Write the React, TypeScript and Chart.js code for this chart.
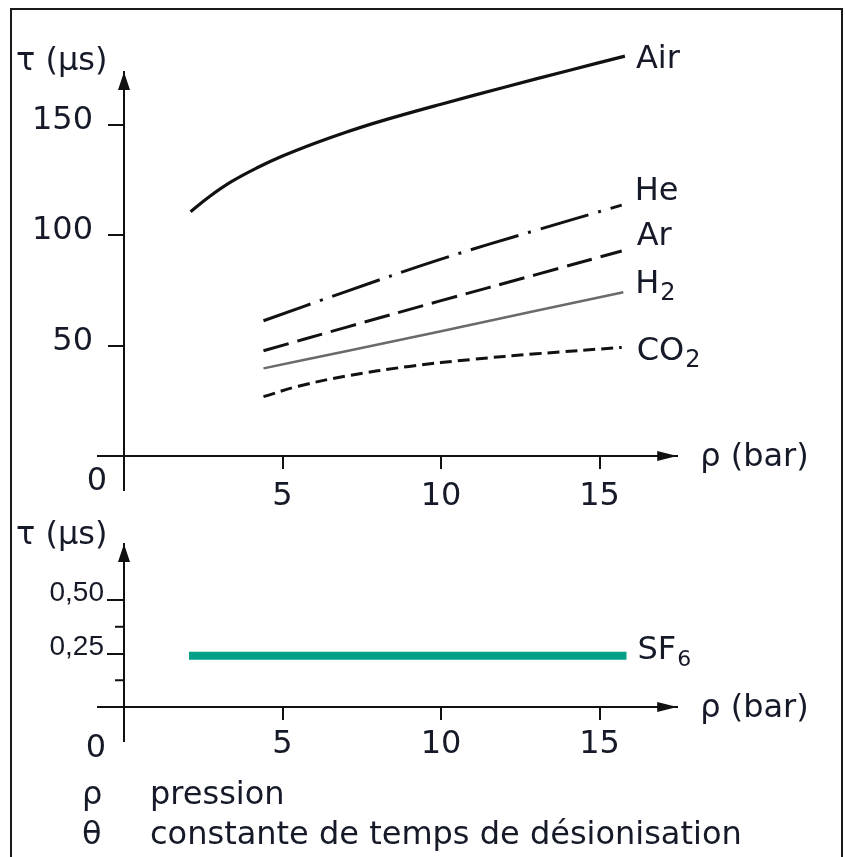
import React, { useEffect, useRef } from "react";
import { Chart, registerables } from "chart.js";

Chart.register(...registerables);

// ---------------- data ----------------
const pressureTicks = [5, 10, 15];
const pressureTickLabels = ["5", "10", "15"];

const tauTicksTop = [50, 100, 150];
const tauTickLabelsTop = ["50", "100", "150"];

const tauTicksBottom = [0.25, 0.5];
const tauTickLabelsBottom = ["0,25", "0,50"];
const tauMinorTicksBottom = [0.125, 0.375];

const airPressure = [2.1, 2.7, 3.4, 4.2, 5, 6, 7, 8, 10, 12, 14, 15.8];
const airTau = [110.7, 117.6, 124.4, 130.6, 135.9, 141.6, 146.7, 151.3, 159.4, 167.1, 174.6, 181.2];

const hePressure = [4.4, 7, 10, 13, 15.7];
const heTau = [61.3, 74.5, 89.2, 102.3, 113.7];

const arPressure = [4.4, 7, 10, 13, 15.7];
const arTau = [47.7, 58.3, 70.4, 82.2, 92.9];

const h2Pressure = [4.4, 7, 10, 13, 15.75];
const h2Tau = [39.7, 47.5, 56.5, 65.8, 74.2];

const co2Pressure = [4.4, 5.5, 7, 9, 11, 13, 15.7];
const co2Tau = [26.9, 31.6, 36.2, 40.6, 43.8, 46.3, 49.2];

const sf6Pressure = [2.05, 15.85];
const sf6Tau = [0.24, 0.24];

const seriesNamesTop = ["Air", "He", "Ar", "H", "CO"];
const seriesSubsTop = ["", "", "", "2", "2"];
const seriesNamesBottom = ["SF"];
const seriesSubsBottom = ["6"];

const yTitle = "τ (µs)";
const xTitle = "ρ (bar)";
const zeroLabel = "0";

// ---------------- style / layout ----------------
const FONT = "'DejaVu Sans', 'Liberation Sans', sans-serif";
const TEXT = "#161a28";
const INK = "#111111";
const TEAL = "#00a086";

const X_MIN = -0.82;
const X_MAX = 17.45;
const TOP_Y_MIN = -15.5;
const TOP_Y_MAX = 174;
const BOT_Y_MIN = -0.159;
const BOT_Y_MAX = 0.762;

const CANVAS_W = 845;
const TOP_H = 520;
const BOT_H = 337;
const PAD_LEFT = 98;
const PAD_RIGHT = 167.8;

type LabelPos = { dx: number; dy: number };
const topLabelPos: LabelPos[] = [
  { dx: 11, dy: 12 },
  { dx: 13, dy: -5 },
  { dx: 15, dy: -6 },
  { dx: 12, dy: 1 },
  { dx: 15, dy: 13 },
];
const bottomLabelPos: LabelPos[] = [{ dx: 11, dy: 3 }];

type OverlayCfg = {
  yTicks: number[];
  yTickLabels: string[];
  yTickFont: string;
  yLabelRight: number;
  yLabelDy: number;
  xLabelDy: number;
  zeroDx: number;
  zeroDy: number;
  titleX: number;
  titleDy: number;
  minorTicks: number[];
  names: string[];
  subs: string[];
  subSize: number;
  labelPos: LabelPos[];
};

function makeOverlay(cfg: OverlayCfg) {
  return {
    id: "overlay",
    afterDraw(chart: any) {
      const ctx: CanvasRenderingContext2D = chart.ctx;
      const xs = chart.scales.x;
      const ys = chart.scales.y;
      const ox = xs.getPixelForValue(0);
      const oy = ys.getPixelForValue(0);
      ctx.save();

      // arrow heads
      ctx.fillStyle = INK;
      const ax = xs.getPixelForValue(xs.max);
      ctx.beginPath();
      ctx.moveTo(ax, oy);
      ctx.lineTo(ax - 20, oy - 5);
      ctx.lineTo(ax - 20, oy + 5);
      ctx.closePath();
      ctx.fill();
      const ay = ys.getPixelForValue(ys.max);
      ctx.beginPath();
      ctx.moveTo(ox, ay);
      ctx.lineTo(ox - 6, ay + 18);
      ctx.lineTo(ox + 6, ay + 18);
      ctx.closePath();
      ctx.fill();

      // minor ticks
      ctx.strokeStyle = INK;
      ctx.lineWidth = 2;
      cfg.minorTicks.forEach((v) => {
        const py = ys.getPixelForValue(v);
        ctx.beginPath();
        ctx.moveTo(ox - 9, py);
        ctx.lineTo(ox, py);
        ctx.stroke();
      });

      ctx.fillStyle = TEXT;
      ctx.textBaseline = "alphabetic";

      // x tick labels
      ctx.font = `32px ${FONT}`;
      ctx.textAlign = "center";
      pressureTicks.forEach((v, i) => {
        ctx.fillText(pressureTickLabels[i], xs.getPixelForValue(v), oy + cfg.xLabelDy);
      });

      // y tick labels
      ctx.font = cfg.yTickFont;
      ctx.textAlign = "right";
      cfg.yTicks.forEach((v, i) => {
        ctx.fillText(cfg.yTickLabels[i], ox - cfg.yLabelRight, ys.getPixelForValue(v) + cfg.yLabelDy);
      });

      // zero
      ctx.font = `32px ${FONT}`;
      ctx.textAlign = "center";
      ctx.fillText(zeroLabel, ox + cfg.zeroDx, oy + cfg.zeroDy);

      // axis titles
      ctx.textAlign = "left";
      ctx.fillText(yTitle, cfg.titleX, ay + cfg.titleDy);
      ctx.fillText(xTitle, ax + 23, oy + 10);

      // series labels
      chart.data.datasets.forEach((ds: any, i: number) => {
        const name = cfg.names[i];
        if (!name) return;
        const last = ds.data[ds.data.length - 1];
        const px = xs.getPixelForValue(last.x) + cfg.labelPos[i].dx;
        const py = ys.getPixelForValue(last.y) + cfg.labelPos[i].dy;
        ctx.font = `32px ${FONT}`;
        ctx.fillText(name, px, py);
        if (cfg.subs[i]) {
          const w = ctx.measureText(name).width;
          ctx.font = `${cfg.subSize}px ${FONT}`;
          ctx.fillText(cfg.subs[i], px + w + 1, py + 7);
        }
      });
      ctx.restore();
    },
  };
}

function axisOptions(yMin: number, yMax: number, yTicks: number[], yTickLen: number, padTop: number, padBottom: number) {
  return {
    animation: false,
    responsive: false,
    devicePixelRatio: 1,
    events: [],
    layout: {
      padding: { left: PAD_LEFT, right: PAD_RIGHT, top: padTop, bottom: padBottom },
      autoPadding: false,
    },
    plugins: { legend: { display: false }, tooltip: { enabled: false }, title: { display: false } },
    elements: { point: { radius: 0 } },
    scales: {
      x: {
        type: "linear",
        min: X_MIN,
        max: X_MAX,
        position: { y: 0 },
        afterBuildTicks: (s: any) => {
          s.ticks = pressureTicks.map((v) => ({ value: v }));
        },
        grid: {
          display: true,
          drawOnChartArea: false,
          drawTicks: true,
          tickLength: 12,
          tickWidth: 2,
          tickColor: INK,
          lineWidth: 2,
          color: INK,
        },
        border: { display: true, color: INK, width: 2 },
        ticks: { display: false },
      },
      y: {
        type: "linear",
        min: yMin,
        max: yMax,
        position: { x: 0 },
        afterBuildTicks: (s: any) => {
          s.ticks = yTicks.map((v) => ({ value: v }));
        },
        grid: {
          display: true,
          drawOnChartArea: false,
          drawTicks: true,
          tickLength: yTickLen,
          tickWidth: 2,
          tickColor: INK,
          lineWidth: 2,
          color: INK,
        },
        border: { display: true, color: INK, width: 2 },
        ticks: { display: false },
      },
    },
  };
}

const pts = (xs: number[], ys: number[]) => xs.map((x, i) => ({ x, y: ys[i] }));

function lineDs(data: any[], color: string, width: number, dash: number[]) {
  return {
    data,
    borderColor: color,
    backgroundColor: color,
    borderWidth: width,
    borderDash: dash,
    borderCapStyle: "butt",
    tension: 0.4,
    fill: false,
    clip: false,
    pointRadius: 0,
  };
}

export default function App() {
  const topRef = useRef<HTMLCanvasElement>(null);
  const botRef = useRef<HTMLCanvasElement>(null);

  useEffect(() => {
    const top = new Chart(topRef.current as HTMLCanvasElement, {
      type: "line",
      data: {
        datasets: [
          lineDs(pts(airPressure, airTau), INK, 3.2, []),
          lineDs(pts(hePressure, heTau), INK, 3, [50, 10, 3, 10]),
          lineDs(pts(arPressure, arTau), INK, 3, [26, 9]),
          lineDs(pts(h2Pressure, h2Tau), "#6a6a6a", 2.5, []),
          lineDs(pts(co2Pressure, co2Tau), INK, 3, [12, 6]),
        ] as any,
      },
      options: axisOptions(TOP_Y_MIN, TOP_Y_MAX, tauTicksTop, 15, 72, TOP_H - 490.2) as any,
      plugins: [
        makeOverlay({
          yTicks: tauTicksTop,
          yTickLabels: tauTickLabelsTop,
          yTickFont: `32px ${FONT}`,
          yLabelRight: 31,
          yLabelDy: 4,
          xLabelDy: 49,
          zeroDx: -27,
          zeroDy: 34,
          titleX: 16,
          titleDy: -2,
          minorTicks: [],
          names: seriesNamesTop,
          subs: seriesSubsTop,
          subSize: 24,
          labelPos: topLabelPos,
        }),
      ],
    });

    const bot = new Chart(botRef.current as HTMLCanvasElement, {
      type: "line",
      data: {
        datasets: [lineDs(pts(sf6Pressure, sf6Tau), TEAL, 8, [])] as any,
      },
      options: axisOptions(BOT_Y_MIN, BOT_Y_MAX, tauTicksBottom, 16, 24, 116) as any,
      plugins: [
        makeOverlay({
          yTicks: tauTicksBottom,
          yTickLabels: tauTickLabelsBottom,
          yTickFont: `28px 'Liberation Sans', Arial, sans-serif`,
          yLabelRight: 20,
          yLabelDy: 1,
          xLabelDy: 46,
          zeroDx: -28,
          zeroDy: 50,
          titleX: 16,
          titleDy: 0,
          minorTicks: tauMinorTicksBottom,
          names: seriesNamesBottom,
          subs: seriesSubsBottom,
          subSize: 22,
          labelPos: bottomLabelPos,
        }),
      ],
    });

    return () => {
      top.destroy();
      bot.destroy();
    };
  }, []);

  const noteStyle: React.CSSProperties = {
    position: "absolute",
    fontFamily: FONT,
    fontSize: 32,
    lineHeight: "32px",
    color: TEXT,
    whiteSpace: "nowrap",
  };

  return (
    <div
      style={{
        position: "fixed",
        left: 0,
        top: 0,
        width: CANVAS_W,
        height: 857,
        overflow: "hidden",
        background: "#ffffff",
      }}
    >
      <canvas
        ref={topRef}
        width={CANVAS_W}
        height={TOP_H}
        style={{ position: "absolute", left: 0, top: 0, width: CANVAS_W, height: TOP_H }}
      />
      <canvas
        ref={botRef}
        width={CANVAS_W}
        height={BOT_H}
        style={{ position: "absolute", left: 0, top: TOP_H, width: CANVAS_W, height: BOT_H }}
      />
      <div style={{ ...noteStyle, left: 82, top: 777 }}>ρ</div>
      <div style={{ ...noteStyle, left: 150, top: 777 }}>pression</div>
      <div style={{ ...noteStyle, left: 82, top: 817 }}>θ</div>
      <div style={{ ...noteStyle, left: 150, top: 817 }}>constante de temps de désionisation</div>
      <div
        style={{
          position: "absolute",
          left: 10,
          top: 8,
          width: 833,
          height: 860,
          boxSizing: "border-box",
          borderTop: "2px solid #1a1a1a",
          borderLeft: "2px solid #1a1a1a",
          borderRight: "2px solid #1a1a1a",
          pointerEvents: "none",
        }}
      />
    </div>
  );
}
